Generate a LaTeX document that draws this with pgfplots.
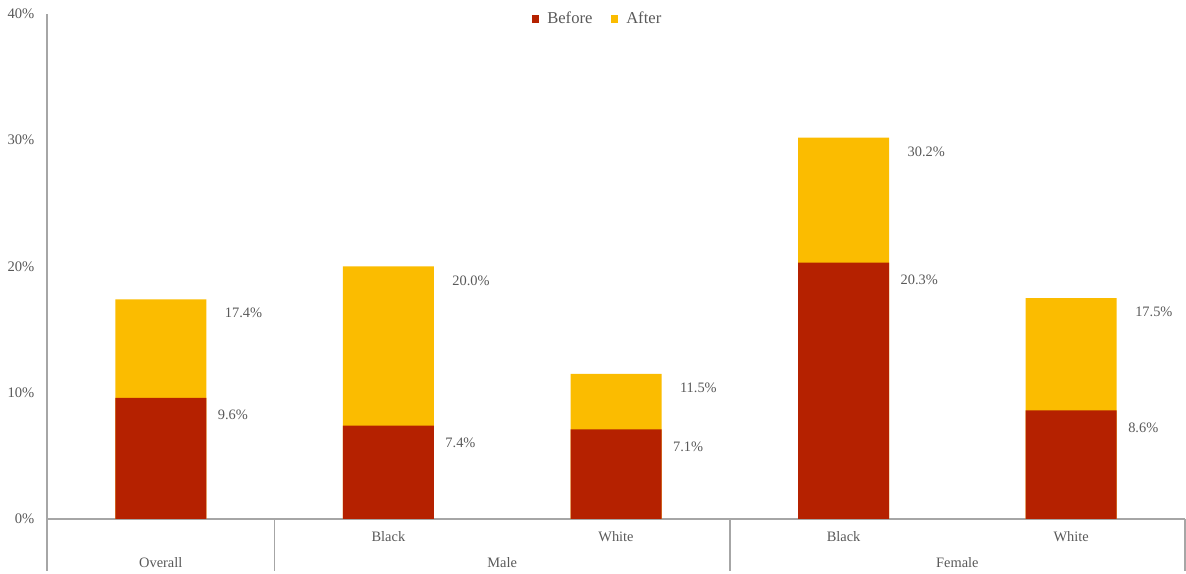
\documentclass[border=0pt]{standalone}
\usepackage{fontspec}
\setmainfont{Liberation Serif}
\usepackage{pgfplots}
\pgfplotsset{compat=1.18}
\definecolor{cred}{HTML}{B52100}
\definecolor{cyel}{HTML}{FBBC00}
\definecolor{ctxt}{HTML}{595959}
\definecolor{caxis}{HTML}{A6A6A6}
\begin{document}
\begin{tikzpicture}
\begin{axis}[
  scale only axis,
  width=569pt, height=252.5pt,
  xmin=-0.5, xmax=4.5,
  ymin=0, ymax=40,
  axis x line*=bottom, axis y line*=left,
  axis line style={caxis, line width=0.75pt, -},
  xtick=\empty,
  ytick={0,10,20,30,40},
  yticklabels={0\%,10\%,20\%,30\%,40\%},
  major tick length=0pt,
  yticklabel style={font=\fontsize{7.3}{8.6}\selectfont, text=ctxt, xshift=-2.8pt},
  clip=false,
  ybar, bar width=45.5pt, bar shift=0pt,
  nodes near coords,
  point meta=explicit symbolic,
  nodes near coords align={anchor=west},
  every node near coord/.append style={font=\fontsize{7.2}{8.6}\selectfont, text=ctxt},
  legend columns=2,
  legend style={draw=none, fill=none, at={(0.484,0.99)}, anchor=center,
    font=\fontsize{8.3}{10}\selectfont, text=ctxt,
    /tikz/every even column/.append style={column sep=8pt},
    nodes={inner sep=1.2pt}},
  legend image code/.code={\fill[#1] (0pt,-1.8pt) rectangle (3.6pt,1.8pt); \path (6.5pt,0pt);},
]
\addlegendimage{fill=cred, draw=none}
\addlegendentry{Before}
\addlegendimage{fill=cyel, draw=none}
\addlegendentry{After}

\addplot[fill=cyel, draw=none, forget plot,
  every node near coord/.append style={xshift=28.5pt, yshift=-7pt}]
  coordinates {(0,17.4) [17.4\%] (1,20.0) [20.0\%] (2,11.5) [11.5\%] (3,30.2) [30.2\%] (4,17.5) [17.5\%]};
\addplot[fill=cred, draw=none, forget plot,
  every node near coord/.append style={xshift=25pt, yshift=-8.5pt}]
  coordinates {(0,9.6) [9.6\%] (1,7.4) [7.4\%] (2,7.1) [7.1\%] (3,20.3) [20.3\%] (4,8.6) [8.6\%]};

% category separators
\foreach \xx in {-0.5,0.5,2.5,4.5}{
  \edef\tmp{\noexpand\draw[caxis, line width=0.75pt] (axis cs:\xx,0) -- ([yshift=-26pt]axis cs:\xx,0);}
  \tmp
}
\foreach \xx/\lab in {1/Black,2/White,3/Black,4/White}{
  \edef\tmp{\noexpand\node[font=\noexpand\fontsize{7.2}{8.6}\noexpand\selectfont, text=ctxt] at ([yshift=-9pt]axis cs:\xx,0) {\lab};}
  \tmp
}
\node[font=\fontsize{7.2}{8.6}\selectfont, text=ctxt] at ([yshift=-22pt]axis cs:0,0) {Overall};
\node[font=\fontsize{7.2}{8.6}\selectfont, text=ctxt] at ([yshift=-22pt]axis cs:1.5,0) {Male};
\node[font=\fontsize{7.2}{8.6}\selectfont, text=ctxt] at ([yshift=-22pt]axis cs:3.5,0) {Female};

\coordinate (bbsw) at ([xshift=-23.5pt, yshift=-27.5pt]rel axis cs:0,0);
\coordinate (bbne) at ([xshift=0.5pt, yshift=7pt]rel axis cs:1,1);
\end{axis}
\pgfresetboundingbox
\path[use as bounding box] (bbsw) rectangle (bbne);
\end{tikzpicture}
\end{document}
